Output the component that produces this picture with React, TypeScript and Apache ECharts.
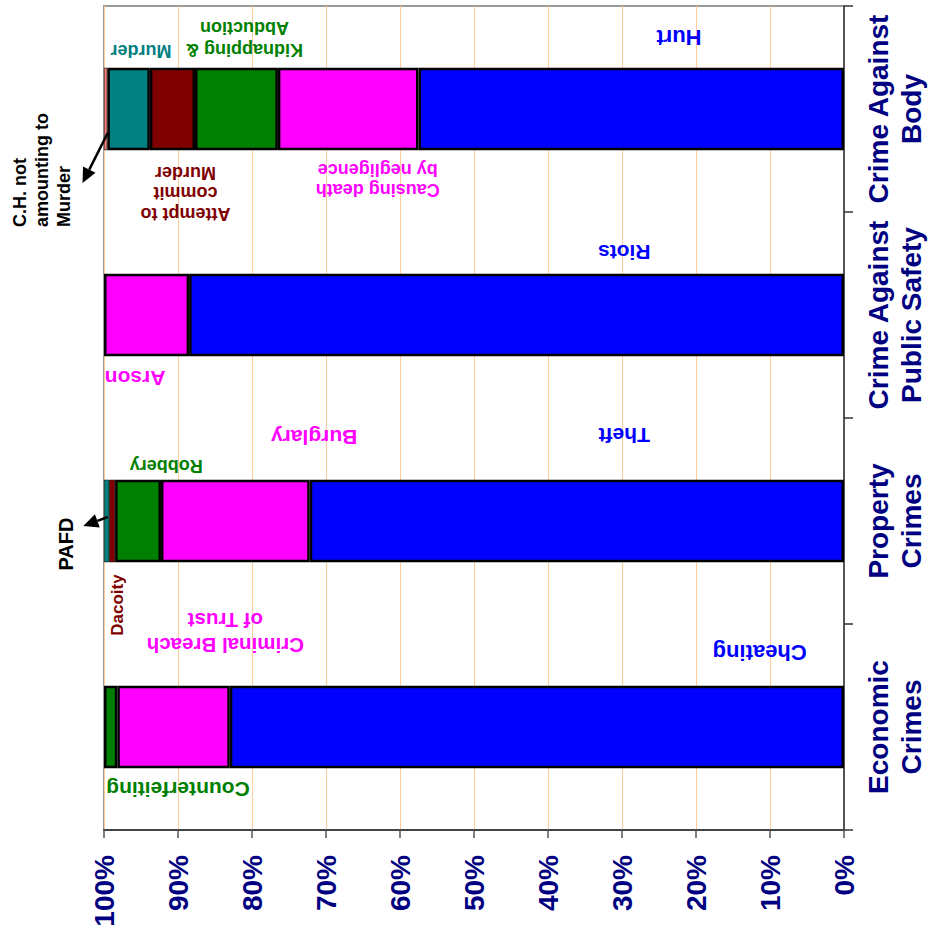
import React, { useEffect, useRef } from 'react';
import * as echarts from 'echarts';

// Category groups (bottom to top in the picture)
const categories = [
  'Economic\nCrimes',
  'Property\nCrimes',
  'Crime Against\nPublic Safety',
  'Crime Against\nBody',
];

// Value-axis ticks (percent of group total)
const valueTicks = [0, 10, 20, 30, 40, 50, 60, 70, 80, 90, 100];

// Share (%) of each crime head inside its group, stacked from 0% (right) to 100% (left)
const level1 = [83.0, 72.2, 88.5, 57.5]; // Cheating, Theft, Riots, Hurt
const level2 = [15.2, 20.1, 11.5, 19.0]; // Criminal Breach of Trust, Burglary, Arson, Causing death by negligence
const level3 = [1.8, 6.2, null, 11.2]; // Counterfeiting, Robbery, -, Kidnapping & Abduction
const level4 = [null, 0.8, null, 6.1]; // -, Dacoity, -, Attempt to commit Murder
const level5 = [null, 0.7, null, 5.75]; // -, PAFD, -, Murder
const level6 = [null, null, null, 0.45]; // -, -, -, C.H. not amounting to Murder

const levelNames = ['Level 1', 'Level 2', 'Level 3', 'Level 4', 'Level 5', 'Level 6'];
const levelColors = ['#0000FF', '#FF00FF', '#008000', '#800000', '#008080', '#FF8080'];

const BLUE = '#0000FF';
const MAGENTA = '#FF00FF';
const GREEN = '#008000';
const DARKRED = '#800000';
const TEAL = '#008080';
const BLACK = '#000000';
const FONT = '"Liberation Sans", Arial, Helvetica, sans-serif';

// In-plot labels: v = value-axis position (%), cat = category index, dy = pixel offset from band centre
const annotations = [
  { text: 'Hurt', color: BLUE, size: 22, lh: 24, v: 22.3, cat: 3, dy: -72, rot: 180, align: 'center' },
  { text: 'Kidnapping &\nAbduction', color: GREEN, size: 18, lh: 22, v: 81, cat: 3, dy: -70, rot: 180, align: 'center' },
  { text: 'Murder', color: TEAL, size: 18, lh: 22, v: 95, cat: 3, dy: -58, rot: 180, align: 'center' },
  { text: 'Attempt to\ncommit\nMurder', color: DARKRED, size: 18, lh: 20.5, v: 89, cat: 3, dy: 84, rot: 180, align: 'center' },
  { text: 'Causing death\nby negligence', color: MAGENTA, size: 18, lh: 20.5, v: 63, cat: 3, dy: 71, rot: 180, align: 'center' },
  { text: 'Riots', color: BLUE, size: 21, lh: 24, v: 29.7, cat: 2, dy: -63, rot: 180, align: 'center' },
  { text: 'Arson', color: MAGENTA, size: 21, lh: 24, v: 95.8, cat: 2, dy: 63, rot: 180, align: 'center' },
  { text: 'Burglary', color: MAGENTA, size: 21, lh: 24, v: 71.6, cat: 1, dy: -84, rot: 180, align: 'center' },
  { text: 'Theft', color: BLUE, size: 21, lh: 24, v: 29.7, cat: 1, dy: -86, rot: 180, align: 'center' },
  { text: 'Robbery', color: GREEN, size: 18, lh: 22, v: 91.6, cat: 1, dy: -55, rot: 180, align: 'center' },
  { text: 'Criminal Breach\nof Trust', color: MAGENTA, size: 20.5, lh: 25, v: 83.6, cat: 1, dy: 112, rot: 180, align: 'center' },
  { text: 'Cheating', color: BLUE, size: 22, lh: 24, v: 11.4, cat: 0, dy: -75, rot: 180, align: 'center' },
  { text: 'Counterfeiting', color: GREEN, size: 21, lh: 24, v: 90, cat: 0, dy: 62, rot: 180, align: 'center' },
  { text: 'Dacoity', color: DARKRED, size: 17, lh: 20, v: 98.2, cat: 1, dy: 84, rot: 90, align: 'center' },
  { text: 'PAFD', color: BLACK, size: 20, lh: 22, v: 105.1, cat: 1, dy: 23, rot: 90, align: 'center' },
  { text: 'C.H. not\namounting to\nMurder', color: BLACK, size: 18, lh: 22, v: 108.4, cat: 3, dy: 118, rot: 90, align: 'left' },
];

// Pointer arrows: from (v1, dy1) to arrow tip (v2, dy2) around a category band centre
const arrows = [
  { cat: 3, v1: 99.5, dy1: 24, v2: 102.9, dy2: 74 },
  { cat: 1, v1: 99.5, dy1: -4, v2: 102.8, dy2: 5 },
];

export default function App() {
  const ref = useRef<HTMLDivElement>(null);

  useEffect(() => {
    if (!ref.current) return;
    const chart = echarts.init(ref.current, null, { renderer: 'svg' });
    const levels = [level1, level2, level3, level4, level5, level6];

    chart.setOption({
      animation: false,
      backgroundColor: '#FFFFFF',
      grid: {
        left: 104,
        right: 87,
        top: 6,
        bottom: 104,
        containLabel: false,
        outerBoundsMode: 'none',
        show: true,
        borderColor: '#999999',
        borderWidth: 2,
        backgroundColor: 'transparent',
      },
      xAxis: {
        type: 'value',
        min: valueTicks[0],
        max: valueTicks[valueTicks.length - 1],
        interval: 10,
        inverse: true,
        position: 'bottom',
        axisLine: { show: true, lineStyle: { color: '#444444', width: 2 } },
        axisTick: { show: true, length: 8, lineStyle: { color: '#555555', width: 1.5 } },
        splitLine: { show: true, lineStyle: { color: '#FFCC99', width: 1 } },
        axisLabel: {
          formatter: '{value}%',
          rotate: 90,
          margin: 25,
          fontSize: 28,
          fontWeight: 'bold',
          fontFamily: FONT,
          color: '#000080',
        },
      },
      yAxis: {
        type: 'category',
        position: 'right',
        data: categories,
        axisLine: { show: true, lineStyle: { color: '#555555', width: 2 } },
        axisTick: { show: true, interval: 0, length: 9, lineStyle: { color: '#333333', width: 1.5 } },
        splitLine: { show: false },
        axisLabel: {
          interval: 0,
          rotate: 90,
          margin: 18,
          fontSize: 28,
          lineHeight: 33,
          fontWeight: 'bold',
          fontFamily: FONT,
          color: '#000080',
        },
      },
      series: levels.map((d, i) => ({
        name: levelNames[i],
        type: 'bar',
        stack: 'total',
        barWidth: '40%',
        data: d.map((v) =>
          v == null
            ? null
            : {
                value: v,
                itemStyle: { borderWidth: v < 1 ? 0.6 : 2.5 },
              }
        ),
        itemStyle: { color: levelColors[i], borderColor: '#000000', borderWidth: 2.5 },
        emphasis: { disabled: true },
      })),
    });

    const toPx = (v: number, cat: number, dy: number) => {
      const p = chart.convertToPixel({ xAxisIndex: 0, yAxisIndex: 0 }, [v, cat]) as number[];
      return [p[0], p[1] + dy];
    };

    const graphics: any[] = [];
    annotations.forEach((a) => {
      const [x, y] = toPx(a.v, a.cat, a.dy);
      graphics.push({
        type: 'text',
        x,
        y,
        rotation: (a.rot * Math.PI) / 180,
        silent: true,
        z: 100,
        style: {
          text: a.text,
          fill: a.color,
          fontSize: a.size,
          fontWeight: 'bold',
          fontFamily: FONT,
          lineHeight: a.lh,
          align: a.align,
          verticalAlign: 'middle',
        },
      });
    });

    arrows.forEach((a) => {
      const [sx, sy] = toPx(a.v1, a.cat, a.dy1);
      const [tx, ty] = toPx(a.v2, a.cat, a.dy2);
      const dx = tx - sx;
      const dyy = ty - sy;
      const len = Math.sqrt(dx * dx + dyy * dyy) || 1;
      const ux = dx / len;
      const uy = dyy / len;
      const L = 15;
      const W = 7;
      const bx = tx - ux * L;
      const by = ty - uy * L;
      const px = -uy;
      const py = ux;
      graphics.push({
        type: 'line',
        silent: true,
        z: 100,
        shape: { x1: sx, y1: sy, x2: bx, y2: by },
        style: { stroke: '#000000', lineWidth: 2.5 },
      });
      graphics.push({
        type: 'polygon',
        silent: true,
        z: 100,
        shape: {
          points: [
            [tx, ty],
            [bx + px * W, by + py * W],
            [bx - px * W, by - py * W],
          ],
        },
        style: { fill: '#000000' },
      });
    });

    chart.setOption({ graphic: graphics });

    return () => {
      chart.dispose();
    };
  }, []);

  return (
    <div
      ref={ref}
      style={{ position: 'fixed', left: 0, top: 0, width: 931, height: 934, background: '#FFFFFF' }}
    />
  );
}
